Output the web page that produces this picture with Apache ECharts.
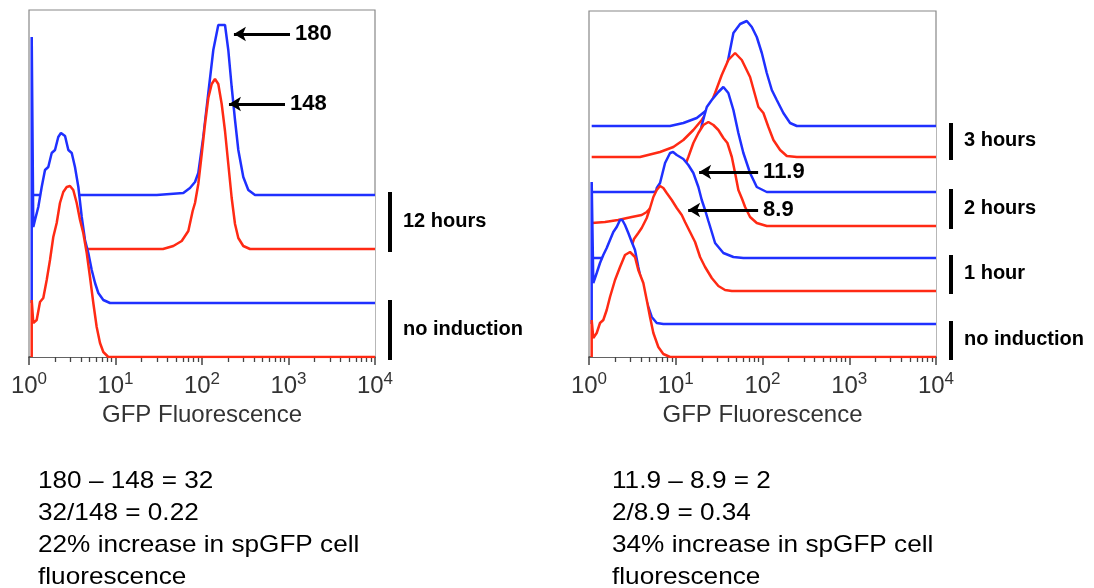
<!DOCTYPE html>
<html><head><meta charset="utf-8">
<script src="https://cdn.jsdelivr.net/npm/echarts@6/dist/echarts.min.js"></script>
<style>html,body{margin:0;padding:0;background:#fff}#c{width:1094px;height:588px}</style>
</head><body><div id="c"></div>
<script>
// ---------- axis ticks ----------
const MAJOR_TICKS = [1, 10, 100, 1000, 10000];
const MINOR_TICKS = [2,3,4,5,6,7,8,9, 20,30,40,50,60,70,80,90, 200,300,400,500,600,700,800,900, 2000,3000,4000,5000,6000,7000,8000,9000];
const X_TITLE = 'GFP Fluorescence';

// ---------- left panel: [fluorescence, count above own baseline] ----------
const L_RED_NONE = [[1.075,0],[1.075,57],[1.121,34],[1.227,37],[1.34,55],[1.463,59],[1.602,77],[1.749,97],[1.909,120],[2.09,134],[2.28,154],[2.49,165],[2.73,170],[2.98,171],[3.25,167],[3.56,154],[3.89,137],[4.24,124],[4.65,104],[5.07,80],[5.54,54],[6.06,30],[6.62,14],[7.23,5],[8.26,0],[10000,0]];
const L_BLUE_NONE = [[1.075,0],[1.075,266],[1.121,76],[1.173,83],[1.281,96],[1.402,116],[1.531,133],[1.671,136],[1.83,150],[1.998,153],[2.18,166],[2.34,170],[2.61,167],[2.85,153],[3.12,150],[3.4,136],[3.72,116],[4.07,86],[4.44,63],[4.85,50],[5.31,33],[5.8,20],[6.33,10],[7.23,3],[8.64,0],[10000,0]];
const L_RED_12 = [[1.075,0],[35.4,0],[46.6,3],[58.3,8],[69.5,18],[78,38],[83,46],[90.6,65],[99.3,95],[108.4,125],[118.3,151],[129.5,165],[141.3,170],[154.3,165],[168.9,145],[184.5,118],[201.4,85],[220.4,51],[240.8,25],[262.9,11],[300.1,3],[358.9,0],[10000,0]];
const L_BLUE_12 = [[1.075,0],[30,0],[42.7,1],[60.8,2],[72.6,7],[83,13],[90.6,22],[103.5,58],[118.3,102],[135.1,145],[154.3,170],[184.5,170],[201.4,145],[220.4,108],[240.8,75],[262.9,45],[300.1,18],[343,5],[410,0],[10000,0]];
// stacking offsets (baselines) for the left panel
const L_OFFSET_RED_NONE = 0, L_OFFSET_BLUE_NONE = 54, L_OFFSET_RED_12 = 108, L_OFFSET_BLUE_12 = 162;

// ---------- right panel ----------
const R_RED_NONE = [[1.074,0],[1.074,37],[1.121,19],[1.227,24],[1.339,34],[1.462,37],[1.6,47],[1.746,60],[1.995,77],[2.279,90],[2.6,102],[2.97,105],[3.39,100],[3.7,87],[4.23,74],[4.63,57],[5.05,40],[5.52,24],[6.3,10],[7.19,3],[8.6,0],[10000,0]];
const R_BLUE_NONE = [[1.074,0],[1.074,142],[1.121,41],[1.227,51],[1.339,61],[1.462,69],[1.6,76],[1.746,84],[1.907,92],[2.087,97],[2.279,104],[2.42,104],[2.6,99],[2.84,91],[3.11,82],[3.39,74],[3.7,57],[4.05,41],[4.43,27],[4.83,17],[5.29,7],[6.04,1],[7.19,0],[10000,0]];
const R_RED_1 = [[1.074,0],[1.339,3],[1.746,8],[2.279,18],[2.82,35],[3.3,52],[3.7,58],[4.05,63],[4.63,73],[5.05,83],[5.52,94],[6.04,101],[6.59,105],[7.19,103],[7.87,98],[8.99,91],[10.27,83],[11.73,76],[12.8,69],[14.62,59],[16.7,49],[19.07,34],[21.78,24],[26,13],[31,5],[37,1],[44.3,0],[10000,0]];
const R_BLUE_1 = [[1.074,0],[1.375,0],[2.279,1],[2.97,4],[3.87,13],[4.79,33],[5.47,53],[6.04,70],[6.59,75],[7.53,95],[8.6,105],[9.31,106],[10.27,103],[12.24,99],[13.97,93],[15.96,85],[18.23,71],[19.94,58],[21.78,48],[23.78,37],[26,26],[28.4,15],[35.4,5],[46.2,1],[60.2,0],[10000,0]];
const R_RED_2 = [[1.074,3],[1.53,4],[2.16,6],[3.11,9],[4.05,11],[4.63,14],[5.29,19],[6.59,24],[7.94,28],[9.38,29],[10.72,43],[12.24,56],[13.97,69],[15.96,83],[18.23,93],[20.81,101],[23.78,104],[27.16,101],[30.99,96],[35.4,88],[39.4,83],[44.3,69],[48.3,53],[52.7,36],[58.2,27],[63,19],[71.9,9],[85.9,3],[112,0],[10000,0]];
const R_BLUE_2 = [[1.074,0],[5.47,0],[7.53,2],[9.82,6],[12.8,15],[15.83,30],[18.07,50],[20.1,68],[22.8,85],[26,92],[31,100],[35.4,105],[40.4,99],[46.2,82],[52.7,59],[60.2,39],[71.9,19],[85.9,5],[112,0],[10000,0]];
const R_RED_3 = [[1.074,0],[3.87,0],[6.59,5],[9.38,10],[12.24,17],[15.96,27],[19.94,37],[23.78,47],[28.4,64],[33.9,82],[40.4,97],[48.3,104],[57.7,97],[71.9,80],[89.7,50],[102.4,44],[117,30],[133.6,17],[159.6,7],[190.7,1],[248.7,0],[10000,0]];
const R_BLUE_3 = [[1.074,0],[8.6,0],[12.24,3],[17.47,8],[22.8,16],[27.16,22],[31,29],[35.4,39],[38.7,59],[46.2,93],[55.2,102],[65.9,105],[75.3,99],[85.9,89],[98.2,73],[112,53],[128,36],[146,26],[174,13],[208,3],[248.7,0],[10000,0]];
const R_OFFSET_RED_NONE = 0, R_OFFSET_BLUE_NONE = 33, R_OFFSET_RED_1 = 66, R_OFFSET_BLUE_1 = 99,
      R_OFFSET_RED_2 = 131, R_OFFSET_BLUE_2 = 165, R_OFFSET_RED_3 = 200, R_OFFSET_BLUE_3 = 231;

// ---------- annotations ----------
const L_ARROWS = [{label:'180', from:1041, to:234, y:323}, {label:'148', from:911, to:205, y:253}];
const R_ARROWS = [{label:'11.9', from:89, to:18.6, y:185}, {label:'8.9', from:89, to:13.9, y:147}];
const L_GROUPS = [{label:'12 hours', top:L_OFFSET_BLUE_12, bottom:L_OFFSET_RED_12}, {label:'no induction', top:L_OFFSET_BLUE_NONE, bottom:L_OFFSET_RED_NONE}];
const R_GROUPS = [{label:'3 hours', top:R_OFFSET_BLUE_3, bottom:R_OFFSET_RED_3}, {label:'2 hours', top:R_OFFSET_BLUE_2, bottom:R_OFFSET_RED_2},
                  {label:'1 hour', top:R_OFFSET_BLUE_1, bottom:R_OFFSET_RED_1}, {label:'no induction', top:R_OFFSET_BLUE_NONE, bottom:R_OFFSET_RED_NONE}];
const L_NOTE = ['180 \u2013 148 = 32', '32/148 = 0.22', '22% increase in spGFP cell', 'fluorescence'];
const R_NOTE = ['11.9 \u2013 8.9 = 2', '2/8.9 = 0.34', '34% increase in spGFP cell', 'fluorescence'];

// ---------- styling ----------
const FONT = '"Liberation Sans", Arial, Helvetica, sans-serif';
const BLUE = '#1f30ff', RED = '#ff2a14';
const AX = '#444';

function shift(pts, off) { return pts.map(p => [p[0], p[1] + off]); }

function mainX(grid) {
  return {
    gridIndex: grid, type: 'log', logBase: 10, min: 1, max: 10000, position: 'bottom',
    axisLine: {show: true, lineStyle: {color: AX, width: 1.5}},
    axisTick: {show: true, length: 8, customValues: MAJOR_TICKS, lineStyle: {color: AX, width: 1.5}},
    axisLabel: {show: true, margin: 14, customValues: MAJOR_TICKS, hideOverlap: false, showMinLabel: true, showMaxLabel: true,
      formatter: v => '{b|10}{s|' + Math.round(Math.log10(v)) + '}',
      rich: {
        b: {fontSize: 24, fontFamily: FONT, color: '#333', lineHeight: 24, padding: [7,0,0,0]},
        s: {fontSize: 17, fontFamily: FONT, color: '#333', lineHeight: 17, verticalAlign: 'top'}
      }},
    splitLine: {show: false},
    name: X_TITLE, nameLocation: 'middle', nameGap: 46,
    nameTextStyle: {fontSize: 24, fontFamily: FONT, color: '#333'}
  };
}
function minorX(grid) {
  return {
    gridIndex: grid, type: 'log', logBase: 10, min: 1, max: 10000, position: 'bottom', offset: 0,
    axisLine: {show: false}, axisLabel: {show: false}, splitLine: {show: false},
    axisTick: {show: true, length: 5, customValues: MINOR_TICKS, lineStyle: {color: AX, width: 1.3}}
  };
}
function curve(pts, off, color, xi, yi, z, extra) {
  return Object.assign({
    type: 'line', xAxisIndex: xi, yAxisIndex: yi, data: shift(pts, off),
    showSymbol: false, symbol: 'none', smooth: false, silent: true, animation: false, z: z,
    lineStyle: {color: color, width: 2.5}, itemStyle: {color: color},
    areaStyle: {color: '#ffffff', opacity: 1}
  }, extra || {});
}
function arrows(list) {
  return {
    silent: true, animation: false, z: 30, symbol: ['none', 'arrow'], symbolSize: [11, 12],
    lineStyle: {color: '#000', width: 3, type: 'solid'},
    label: {show: true, position: 'start', distance: 5, formatter: '{b}', fontSize: 22, fontWeight: 'bold', fontFamily: FONT, color: '#000'},
    emphasis: {disabled: true},
    data: list.map(a => [{coord: [a.from, a.y], name: a.label}, {coord: [a.to, a.y]}])
  };
}

const option = {
  backgroundColor: '#ffffff',
  animation: false,
  grid: [
    {left: 29, top: 10, width: 346, height: 347, show: true, borderColor: '#888', borderWidth: 1.2, backgroundColor: 'transparent'},
    {left: 589, top: 11, width: 347, height: 346, show: true, borderColor: '#888', borderWidth: 1.2, backgroundColor: 'transparent'}
  ],
  xAxis: [mainX(0), minorX(0), mainX(1), minorX(1)],
  yAxis: [
    {gridIndex: 0, type: 'value', min: 0, max: 347, show: false},
    {gridIndex: 1, type: 'value', min: 0, max: 346, show: false}
  ],
  series: [
    // left: back to front
    curve(L_BLUE_12, L_OFFSET_BLUE_12, BLUE, 0, 0, 2),
    curve(L_RED_12, L_OFFSET_RED_12, RED, 0, 0, 3),
    curve(L_BLUE_NONE, L_OFFSET_BLUE_NONE, BLUE, 0, 0, 4),
    curve(L_RED_NONE, L_OFFSET_RED_NONE, RED, 0, 0, 5, {markLine: arrows(L_ARROWS)}),
    // right: back to front
    curve(R_BLUE_3, R_OFFSET_BLUE_3, BLUE, 2, 1, 2),
    curve(R_RED_3, R_OFFSET_RED_3, RED, 2, 1, 3),
    curve(R_BLUE_2, R_OFFSET_BLUE_2, BLUE, 2, 1, 4),
    curve(R_RED_2, R_OFFSET_RED_2, RED, 2, 1, 5),
    curve(R_BLUE_1, R_OFFSET_BLUE_1, BLUE, 2, 1, 6),
    curve(R_RED_1, R_OFFSET_RED_1, RED, 2, 1, 7),
    curve(R_BLUE_NONE, R_OFFSET_BLUE_NONE, BLUE, 2, 1, 8),
    curve(R_RED_NONE, R_OFFSET_RED_NONE, RED, 2, 1, 9, {markLine: arrows(R_ARROWS)})
  ]
};

const chart = echarts.init(document.getElementById('c'), null, {renderer: 'canvas'});
chart.setOption(option);

const gfx = [];
function addGroups(xIdx, yIdx, groups) {
  const xr = chart.convertToPixel({xAxisIndex: xIdx}, 10000);
  groups.forEach(g => {
    const yt = chart.convertToPixel({yAxisIndex: yIdx}, g.top) - 3;
    const yb = chart.convertToPixel({yAxisIndex: yIdx}, g.bottom) + 3;
    gfx.push({type: 'rect', silent: true, shape: {x: xr + 13, y: yt, width: 4, height: yb - yt}, style: {fill: '#000'}});
    gfx.push({type: 'text', silent: true, x: xr + 28, y: (yt + yb) / 2 - 1,
      style: {text: g.label, fontSize: 20, fontWeight: 'bold', fontFamily: FONT, fill: '#000', verticalAlign: 'middle', textVerticalAlign: 'middle'}});
  });
}
addGroups(0, 0, L_GROUPS);
addGroups(2, 1, R_GROUPS);
function addNote(x, lines) {
  gfx.push({type: 'text', silent: true, x: x, y: 465, scaleX: 1.09,
    style: {text: lines.join('\n'), fontSize: 24, fontFamily: FONT, fill: '#000', lineHeight: 32}});
}
addNote(38, L_NOTE);
addNote(612, R_NOTE);
chart.setOption({graphic: gfx});
</script>
</body></html>
